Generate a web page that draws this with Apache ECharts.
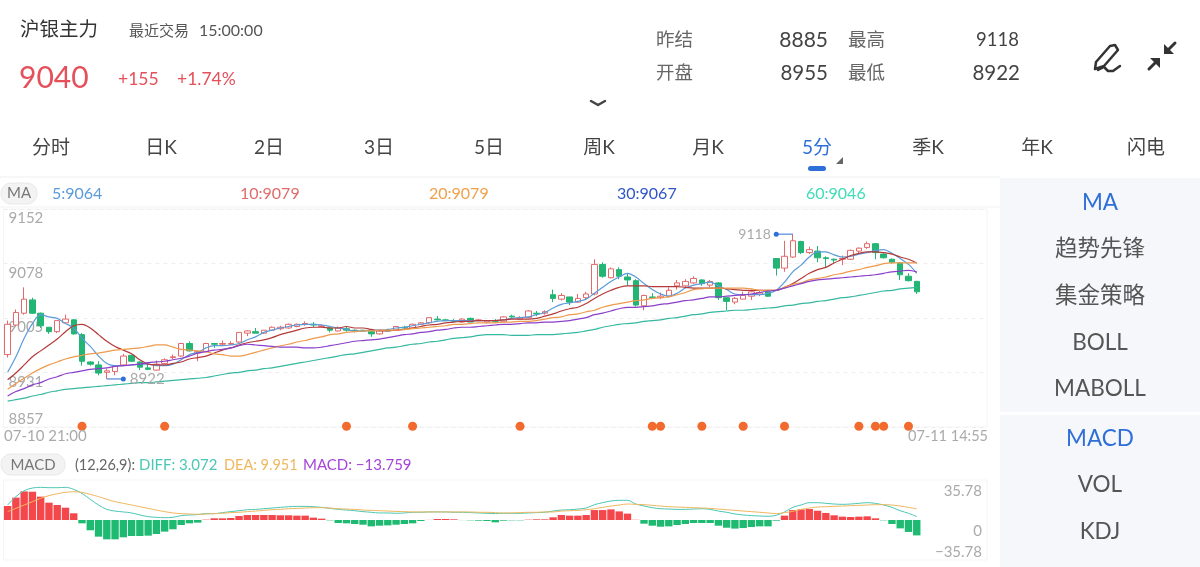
<!DOCTYPE html>
<html><head><meta charset="utf-8">
<style>html,body{margin:0;padding:0;background:#fff}#c{width:1200px;height:567px}</style>
<script src="https://cdn.jsdelivr.net/npm/echarts@6/dist/echarts.min.js"></script>
</head><body><div id="c"></div>
<script>
const categories = ['21:00','21:05','21:10','21:15','21:20','21:25','21:30','21:35','21:40','21:45','21:50','21:55','22:00','22:05','22:10','22:15','22:20','22:25','22:30','22:35','22:40','22:45','22:50','22:55','23:00','23:05','23:10','23:15','23:20','23:25','23:30','23:35','23:40','23:45','23:50','23:55','00:00','00:05','00:10','00:15','00:20','00:25','00:30','00:35','00:40','00:45','00:50','00:55','01:00','01:05','01:10','01:15','01:20','01:25','01:30','01:35','01:40','01:45','01:50','01:55','02:00','02:05','02:10','02:15','02:20','02:25','09:00','09:05','09:10','09:15','09:20','09:25','09:30','09:35','09:40','09:45','09:50','09:55','10:00','10:05','10:10','10:30','10:35','10:40','10:45','10:50','10:55','11:00','11:05','11:10','11:15','11:20','11:25','13:30','13:35','13:40','13:45','13:50','13:55','14:00','14:05','14:10','14:15','14:20','14:25','14:30','14:35','14:40','14:45','14:50','14:55'];
const opens = [8955,8995,9011,9029,9011,8992,8986,8998,9002,8982,8945,8941,8931,8932,8941,8954,8945,8937,8934,8943,8951,8953,8970,8957,8959,8970,8969,8969,8972,8984,8986,8984,8988,8990,8991,8993,8996,8996,8993,8991,8987,8990,8988,8988,8986,8983,8988,8988,8992,8991,8996,8998,9003,9002,9001,8999,9004,9001,8999,9001,9000,9007,9003,9005,9011,9011,9036,9030,9033,9026,9032,9037,9077,9059,9070,9060,9055,9021,9033,9032,9034,9048,9048,9052,9056,9049,9052,9032,9026,9030,9034,9037,9040,9085,9072,9087,9108,9093,9095,9086,9084,9084,9084,9095,9100,9105,9091,9084,9079,9061,9054];
const closes = [8996,9012,9030,9011,8994,8986,9001,9003,8983,8946,8942,8930,8933,8940,8953,8946,8938,8935,8942,8948,8952,8970,8960,8959,8970,8969,8970,8970,8985,8987,8984,8988,8992,8992,8996,8996,8997,8995,8994,8988,8991,8988,8987,8987,8983,8988,8987,8993,8991,8996,8998,9005,9002,9001,9000,9003,8999,9002,9001,9000,9006,9006,9005,9014,9010,9013,9031,9035,9026,9031,9037,9077,9061,9071,9061,9056,9022,9035,9032,9034,9042,9052,9054,9058,9051,9054,9032,9027,9031,9035,9040,9039,9034,9072,9088,9109,9093,9097,9086,9085,9083,9085,9096,9099,9105,9093,9086,9080,9063,9055,9040];
const lows = [8951,8994,9009,9010,8991,8983,8984,8997,8982,8940,8940,8927,8922,8927,8940,8945,8934,8934,8933,8942,8949,8952,8959,8946,8958,8964,8968,8968,8970,8980,8984,8983,8987,8988,8990,8992,8994,8992,8992,8985,8986,8986,8985,8986,8979,8982,8987,8987,8988,8990,8995,8997,9001,9000,8999,8998,8999,9000,8997,8998,8999,9005,9002,9004,9007,9009,9026,9028,9022,9025,9030,9035,9059,9058,9057,9048,9020,9015,9031,9030,9032,9043,9047,9051,9048,9046,9029,9015,9023,9030,9029,9034,9033,9062,9067,9086,9091,9091,9080,9072,9079,9076,9083,9091,9098,9084,9085,9078,9056,9054,9037];
const highs = [9001,9016,9046,9032,9012,8992,9001,9009,9003,8984,8946,8946,8936,8940,8956,8955,8946,8943,8947,8950,8955,8971,8973,8960,8971,8970,8974,8973,8985,8988,8991,8988,8993,8994,8997,8997,9000,8999,8996,8993,8993,8993,8989,8988,8987,8989,8990,8993,8994,8997,8999,9005,9007,9003,9003,9004,9005,9003,9001,9003,9007,9009,9007,9015,9014,9015,9043,9038,9033,9037,9040,9084,9080,9073,9073,9064,9057,9036,9038,9039,9046,9056,9057,9061,9057,9056,9053,9032,9033,9040,9043,9042,9042,9085,9109,9118,9109,9101,9102,9088,9085,9089,9097,9100,9108,9106,9092,9085,9080,9065,9055];
const ma5 = [8931,8952,8977,8997,9009,9006,9004,8997,8991,8977,8966,8953,8943,8940,8940,8941,8942,8942,8940,8940,8942,8948,8955,8958,8964,8967,8967,8968,8970,8975,8979,8985,8988,8991,8993,8995,8996,8996,8995,8993,8991,8989,8987,8987,8988,8988,8989,8991,8992,8994,8996,8998,9000,9001,9001,9001,9001,9001,9001,9001,9002,9004,9005,9006,9009,9012,9018,9023,9025,9027,9030,9038,9046,9054,9060,9065,9060,9051,9043,9037,9034,9038,9045,9049,9051,9053,9048,9043,9037,9036,9036,9036,9038,9042,9053,9067,9076,9087,9094,9094,9090,9087,9088,9091,9093,9096,9097,9092,9085,9077,9065];
const ma10 = [8921,8930,8941,8952,8960,8968,8976,8986,8994,8996,8991,8982,8973,8966,8961,8956,8948,8942,8941,8941,8943,8945,8949,8951,8953,8957,8961,8964,8968,8971,8973,8975,8978,8982,8985,8988,8991,8992,8992,8991,8991,8993,8991,8991,8989,8987,8987,8988,8989,8991,8993,8995,8996,8998,8999,9000,9000,9001,9001,9001,9002,9003,9003,9003,9004,9007,9010,9014,9017,9019,9024,9031,9037,9042,9046,9048,9048,9048,9047,9047,9047,9047,9046,9045,9045,9045,9045,9044,9043,9042,9042,9042,9042,9042,9046,9051,9058,9065,9070,9073,9079,9084,9089,9092,9094,9094,9093,9091,9087,9084,9079];
const ma20 = [8908,8916,8923,8930,8936,8941,8945,8949,8952,8954,8956,8957,8959,8961,8962,8963,8964,8966,8968,8968,8965,8962,8961,8960,8959,8956,8955,8953,8953,8955,8958,8961,8964,8967,8969,8972,8974,8977,8979,8982,8983,8985,8986,8987,8987,8988,8988,8988,8989,8990,8991,8992,8993,8994,8996,8996,8997,8998,8998,8998,8999,8999,9000,9000,9001,9003,9005,9006,9009,9010,9013,9015,9019,9022,9024,9026,9028,9029,9031,9032,9033,9036,9039,9043,9044,9045,9045,9045,9045,9045,9044,9042,9042,9042,9046,9050,9052,9056,9058,9060,9063,9065,9068,9070,9073,9075,9078,9079,9079,9079,9079];
const ma30 = [8899,8905,8909,8914,8917,8922,8925,8929,8931,8933,8935,8936,8937,8939,8940,8941,8942,8944,8945,8946,8948,8950,8953,8957,8959,8961,8962,8964,8967,8969,8968,8967,8966,8965,8965,8965,8964,8964,8965,8967,8969,8971,8973,8974,8975,8976,8978,8980,8982,8983,8985,8986,8988,8989,8991,8992,8992,8993,8994,8995,8996,8996,8997,8998,8998,8999,8999,9000,9001,9003,9005,9009,9011,9014,9017,9019,9019,9020,9021,9023,9024,9026,9028,9029,9031,9033,9033,9034,9035,9036,9037,9039,9041,9042,9045,9048,9051,9054,9056,9057,9058,9059,9060,9061,9062,9063,9065,9067,9068,9069,9067];
const ma60 = [8892,8894,8896,8899,8901,8904,8906,8908,8909,8910,8911,8912,8913,8914,8915,8916,8917,8917,8918,8919,8920,8921,8922,8923,8924,8926,8928,8930,8931,8933,8934,8936,8937,8939,8941,8943,8945,8947,8949,8951,8953,8955,8956,8958,8960,8962,8964,8965,8967,8969,8970,8972,8973,8975,8977,8978,8979,8981,8982,8982,8982,8981,8981,8981,8982,8982,8982,8983,8984,8985,8987,8989,8992,8994,8996,8997,8998,9000,9001,9002,9004,9005,9007,9009,9010,9012,9013,9014,9015,9015,9016,9017,9018,9019,9021,9022,9024,9025,9027,9028,9030,9032,9033,9035,9037,9039,9041,9042,9044,9045,9046];
const macdHist = [12.5,20,25.6,25.3,20.9,15.5,13.4,11,6,-3,-9.2,-14.9,-17.3,-17.3,-15.5,-14.3,-14.3,-14,-12.5,-10.4,-8.3,-4.5,-3,-2.4,0.3,1.5,1.5,1.8,3.6,4.5,4.5,4.5,4.5,4.2,4.2,3.9,3.9,2.1,1.2,-0.3,-2.7,-3,-3.6,-4.2,-5.7,-5.1,-4.8,-4.2,-3.6,-3,-0.9,0.1,0.9,0.9,0.6,-0.1,-0.3,-0.6,-0.9,-2.1,-0.6,-0.3,-0.3,0.3,0.6,0.6,2.4,4.5,3.9,3.9,4.5,8.9,8.9,9.5,7.7,5.7,0.2,-3.3,-5.1,-6,-5.7,-4.5,-3.6,-2.7,-2.7,-2.7,-5.1,-6.9,-7.7,-7.2,-6.3,-5.7,-5.7,-0.6,3.9,8.9,9.5,9.8,8.3,6.3,4.2,3,2.7,3,3.3,1.5,-0.3,-3.6,-7.5,-10.7,-13.759];
const diff = [13.4,20.9,26.2,28.6,29.2,28.9,28.9,29.2,27.4,23.8,18.5,13.4,9.5,8.0,7.2,6.3,4.5,3.0,2.4,2.1,2.4,3.9,4.5,4.8,5.7,5.7,6.6,7.5,8.3,9.2,9.5,10.1,10.7,11.3,11.9,12.2,12.2,11.9,11.3,10.4,9.5,8.9,8.3,7.5,6.9,6.3,6.3,6.0,6.3,6.9,6.9,7.2,7.2,7.2,6.9,6.9,6.6,6.3,6.0,5.7,6.0,6.0,6.0,6.3,6.6,6.9,8.0,8.9,9.2,9.8,10.7,13.7,15.5,17.0,17.6,17.6,14.3,12.5,11.0,10.1,9.8,9.5,9.5,9.8,10.1,9.5,8.0,6.9,5.4,4.5,3.9,3.6,3.3,4.2,7.2,11.3,13.4,15.5,15.5,14.9,14.3,14.0,14.3,14.9,15.5,14.9,13.4,11.3,8.3,6.0,3.072];
const dea = [7.5,10.4,13.4,16.4,19.4,21.8,23.5,24.7,25.3,24.7,22.9,20.9,18.5,16.4,14.9,13.4,11.9,10.4,8.9,7.5,6.3,5.7,5.4,5.1,5.4,5.7,6.0,6.6,6.9,7.5,8.0,8.6,9.2,9.5,10.1,10.4,10.7,11.0,11.0,10.7,10.1,9.8,9.5,8.9,8.6,8.3,8.0,7.7,7.5,7.2,7.2,7.2,7.2,7.2,7.2,7.2,7.2,6.9,6.9,6.6,6.3,6.3,6.6,6.9,6.9,7.2,7.2,8.0,8.3,8.6,9.2,10.1,11.3,12.5,13.4,14.3,14.0,13.7,13.1,12.5,11.9,11.6,11.3,11.0,10.7,10.4,9.8,9.2,8.6,8.0,7.5,6.9,6.3,5.7,6.6,7.7,9.5,10.7,11.6,11.9,12.2,12.5,12.8,13.1,13.4,13.7,13.7,13.4,12.5,11.3,9.951];
const signalBars = [9,19,41,49,62,78,79,84,89,94,103,105,106,109];
const yTicks = [8857,8930.75,9004.5,9078.25,9152];
const macdTicks = [-35.78,0,35.78];
const tabs = ['分时','日K','2日','3日','5日','周K','月K','5分','季K','年K','闪电'];
const panelA = ['MA','趋势先锋','集金策略','BOLL','MABOLL'];
const panelB = ['MACD','VOL','KDJ'];

const FF = 'Lato, "Noto Sans CJK SC", sans-serif';
const UP='#e26a6a', DOWN='#22b573', BLUE='#2f6fd8';
const slots = categories.concat(new Array(8).fill(''));
const GL=3.5, GW=983.5;

function T(text,x,y,size,fill,align,weight){return {type:'text',x,y,z:20,silent:true,style:{text,fill,fontSize:size,fontFamily:FF,fontWeight:weight||400,align:align||'left',verticalAlign:'middle'}};}
function R(x,y,w,h,fill,r,stroke){return {type:'rect',z:1,silent:true,shape:{x,y,width:w,height:h,r:r||0},style:{fill,stroke:stroke||null,lineWidth:1}};}
function P(points,stroke,w){return {type:'polyline',z:20,silent:true,shape:{points},style:{stroke,lineWidth:w,fill:null,lineCap:'round',lineJoin:'round'}};}
function G(points,fill){return {type:'polygon',z:20,silent:true,shape:{points},style:{fill}};}

const tabX=[51,161,269,379,489,599,708,817,928,1037,1146];
const g=[
 T('沪银主力',20,30,19.5,'#333'),
 T('最近交易',129,31,15,'#555'),T('15:00:00',199,30.5,16,'#555'),
 T('9040',19,78,30,'#e5505a'),T('+155',118,79.5,17.5,'#e5505a'),T('+1.74%',177,79.5,17.5,'#e5505a'),
 T('昨结',656,40.5,18.5,'#666'),T('8885',828,40,21,'#444','right'),T('最高',848,40.5,18.5,'#666'),T('9118',1019,40,18.5,'#444','right'),
 T('开盘',656,73.5,18.5,'#666'),T('8955',828,73,20.5,'#444','right'),T('最低',848,73.5,18.5,'#666'),T('8922',1020,73,20.5,'#444','right'),
 P([[591,101],[598,105],[605,101]],'#444',2.5),
 P([[1096,62],[1110,46],[1115,45],[1118,50],[1104,66],[1095,69],[1096,62]],'#333',2.5),
 P([[1098,70],[1104,67],[1108,71],[1113,71],[1120,66]],'#333',2.5),
 P([[1175,43],[1167,51]],'#333',3),G([[1164,54],[1164,44],[1174,54]],'#333'),
 P([[1149,69],[1157,61]],'#333',3),G([[1160,58],[1160,68],[1150,58]],'#333'),
 R(808,166,18,5,BLUE,2.5),G([[843,157],[843,164],[836,164]],'#666'),
 R(0,176,1000,2,'#f7f7f7'),R(0,206,1000,2,'#f9f9f9'),
 R(1000,178,200,234,'#f5f7fa'),R(1000,415,200,152,'#f5f7fa'),
 R(1,183,36,21,'#f3f3f3',10,'#e8e8e8'),T('MA',19,193.5,15,'#777','center'),
 T('5:9064',52,194,16,'#5b9bd8'),T('10:9079',240,194,16,'#e06b6b'),T('20:9079',429,194,16,'#f0a04b'),T('30:9067',617,194,16,'#2f55c8'),T('60:9046',806,194,16,'#3fdcb8'),
 T('07-10 '+categories[0],4,436.5,15,'#aaa'),T('07-11 '+categories[categories.length-1],988,436.5,14.5,'#aaa','right'),
 R(1,454,64,21,'#f3f3f3',10,'#e8e8e8'),T('MACD',33,465,15,'#777','center'),
 T('(12,26,9):',75,465,14.5,'#666'),T('DIFF: 3.072',139,465,15,'#4cc7b5'),T('DEA: 9.951',224,465,14.5,'#efb75e'),T('MACD: −13.759',303,465,15,'#a544d8'),
];
tabs.forEach((t,i)=>g.push(T(t,tabX[i],148,19,i===7?BLUE:'#444','center')));
[202,248,295,342,388].forEach((y,i)=>g.push(T(panelA[i],1100,y+1,22.5,i===0?BLUE:'#555','center')));
[438,484,531].forEach((y,i)=>g.push(T(panelB[i],1100,y+1,22.5,i===0?BLUE:'#555','center')));

function ml(name,data,color){return {name,type:'line',data,xAxisIndex:0,yAxisIndex:0,showSymbol:false,smooth:0.35,z:4,silent:true,lineStyle:{color,width:1.2}};}
function ml2(name,data,color){return {name,type:'line',data,xAxisIndex:1,yAxisIndex:1,showSymbol:false,smooth:0.35,z:4,silent:true,lineStyle:{color,width:1}};}
const hi=Math.max(...highs), lo=Math.min(...lows), hiI=highs.indexOf(hi), loI=lows.indexOf(lo);
function ext(pts,pos,size,dist){return {type:'line',xAxisIndex:0,yAxisIndex:0,z:6,silent:true,animation:false,
 data:pts,symbol:'circle',symbolSize:(v,p)=>p.dataIndex===0?5:0,showSymbol:true,showAllSymbol:true,
 lineStyle:{color:BLUE,width:1},itemStyle:{color:BLUE},
 label:{show:true,position:pos,distance:dist,fontFamily:FF,fontSize:size,color:'#aaa',formatter:p=>p.dataIndex===0?String(p.value[1]):''}};}

const chart=echarts.init(document.getElementById('c'),null,{renderer:'canvas'});
chart.setOption({
 animation:false,backgroundColor:'#fff',
 graphic:{elements:g},
 grid:[
  {left:GL,width:GW,top:209,height:218,show:true,borderColor:'#f5f5f5',borderWidth:1,backgroundColor:'transparent'},
  {left:GL,width:GW,top:480,height:80,show:true,borderColor:'#f5f5f5',borderWidth:1,backgroundColor:'transparent'}
 ],
 xAxis:[
  {type:'category',data:slots,gridIndex:0,axisLine:{show:false},axisTick:{show:false},axisLabel:{show:false},splitLine:{show:false}},
  {type:'category',data:slots,gridIndex:1,axisLine:{show:false},axisTick:{show:false},axisLabel:{show:false},splitLine:{show:false}}
 ],
 yAxis:[
  {type:'value',gridIndex:0,min:yTicks[0],max:yTicks[4],position:'left',scale:true,axisLine:{show:false},
   axisTick:{show:false,customValues:yTicks},
   axisLabel:{customValues:yTicks,inside:true,margin:5,fontFamily:FF,fontSize:15,color:'#aaa',verticalAlign:'top',verticalAlignMinLabel:'bottom',padding:[2,0,0,0],formatter:v=>String(Math.round(v))},
   splitLine:{show:true,lineStyle:{color:'#eeeeee',type:[4,4],width:1}}},
  {type:'value',gridIndex:1,min:macdTicks[0],max:macdTicks[2],interval:35.78,position:'right',axisLine:{show:false},axisTick:{show:false},
   axisLabel:{inside:true,margin:5,fontFamily:FF,fontSize:15,color:'#aaa',verticalAlign:'top',verticalAlignMinLabel:'bottom',padding:[4,0,0,0],formatter:v=>v<0?'−35.78':String(v)},
   splitLine:{show:false}}
 ],
 series:[
  {name:'K',type:'candlestick',xAxisIndex:0,yAxisIndex:0,z:3,barWidth:6,silent:true,
   data:opens.map((o,i)=>[o,closes[i],lows[i],highs[i]]),
   itemStyle:{color:'#ffffff',color0:DOWN,borderColor:UP,borderColor0:DOWN,borderColorDoji:UP,borderWidth:1}},
  ml('MA5',ma5,'#5b9bd8'),ml('MA10',ma10,'#b5393a'),ml('MA20',ma20,'#ee9a4d'),ml('MA30',ma30,'#8a3fc9'),ml('MA60',ma60,'#35b8a0'),
  ext([[hiI-2,hi],[hiI,hi]],'left',14,3),
  ext([[loI+2,lo],[loI,lo]],'right',15,4),
  {name:'signal',type:'scatter',xAxisIndex:0,yAxisIndex:0,z:5,clip:false,silent:true,symbolSize:9,
   data:signalBars.map(i=>[i,yTicks[0]+1]),itemStyle:{color:'#f26a2e',opacity:1}},
  {name:'MACD',type:'bar',xAxisIndex:1,yAxisIndex:1,z:2,barWidth:7.4,silent:true,data:macdHist,
   itemStyle:{color:p=>p.value>=0?'#f4474c':'#1fba72'}},
  ml2('DIFF',diff,'#4cc7b5'),ml2('DEA',dea,'#efb75e')
 ]
});
</script></body></html>
